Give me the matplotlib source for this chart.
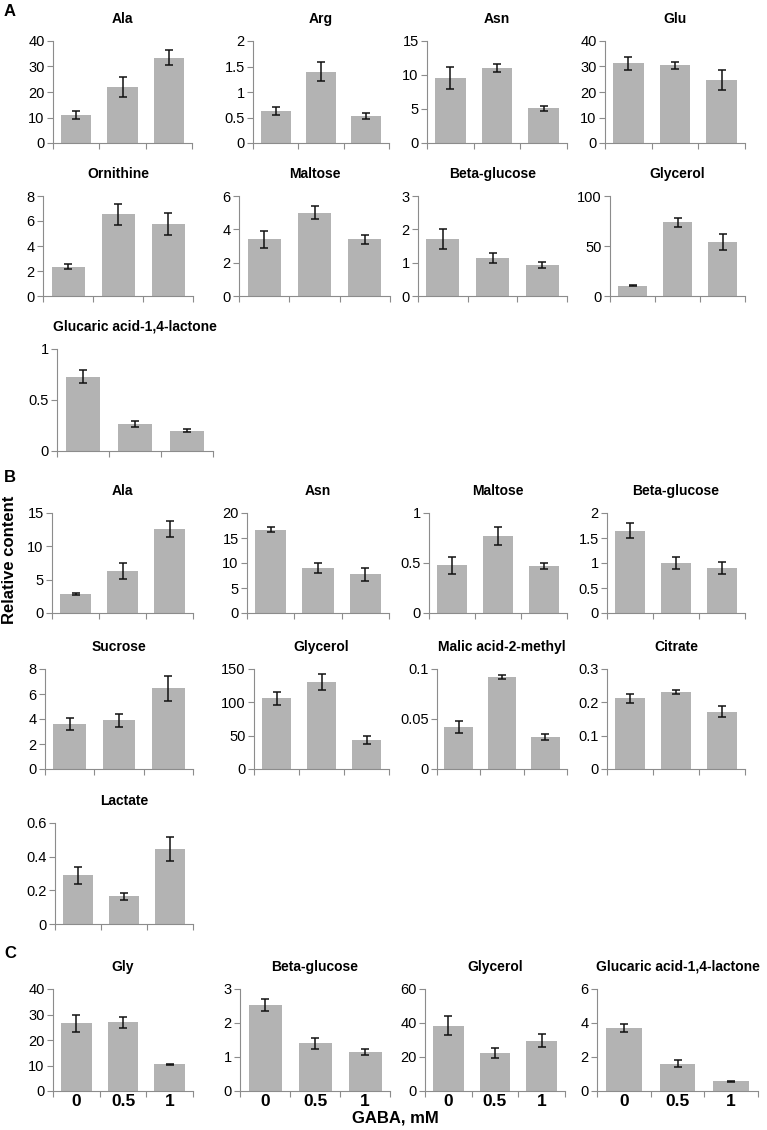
import numpy as np
import matplotlib
matplotlib.use('Agg')
import matplotlib.pyplot as plt
from matplotlib.ticker import FuncFormatter, FixedLocator

plt.rcParams['font.family'] = ['Liberation Sans', 'DejaVu Sans']

gaba = ['0', '0.5', '1']

# panel A
a_names = ['Ala', 'Arg', 'Asn', 'Glu', 'Ornithine', 'Maltose', 'Beta-glucose', 'Glycerol',
           'Glucaric acid-1,4-lactone']
a_means = [[11, 22, 33.5], [0.62, 1.4, 0.53], [9.6, 11.0, 5.1], [31.2, 30.4, 24.8],
           [2.35, 6.55, 5.75], [3.4, 5.0, 3.4], [1.72, 1.15, 0.93], [10.5, 74, 54],
           [0.73, 0.265, 0.2]]
a_errs = [[1.5, 4, 3], [0.08, 0.18, 0.06], [1.6, 0.6, 0.4], [2.6, 1.2, 4],
          [0.2, 0.85, 0.9], [0.5, 0.4, 0.25], [0.3, 0.15, 0.08], [0.8, 4.5, 8],
          [0.065, 0.025, 0.015]]
a_yticks = [[0, 10, 20, 30, 40], [0, 0.5, 1, 1.5, 2], [0, 5, 10, 15], [0, 10, 20, 30, 40],
            [0, 2, 4, 6, 8], [0, 2, 4, 6], [0, 1, 2, 3], [0, 50, 100], [0, 0.5, 1]]

# panel B
b_names = ['Ala', 'Asn', 'Maltose', 'Beta-glucose', 'Sucrose', 'Glycerol',
           'Malic acid-2-methyl', 'Citrate', 'Lactate']
b_means = [[2.8, 6.3, 12.6], [16.7, 9.1, 7.8], [0.48, 0.77, 0.47], [1.65, 1.0, 0.9],
           [3.6, 3.9, 6.45], [106, 130, 43], [0.042, 0.092, 0.032], [0.212, 0.231, 0.172],
           [0.29, 0.165, 0.445]]
b_errs = [[0.15, 1.2, 1.2], [0.5, 1.0, 1.3], [0.085, 0.09, 0.03], [0.15, 0.12, 0.12],
          [0.45, 0.5, 1.0], [10, 12, 6], [0.006, 0.002, 0.003], [0.013, 0.006, 0.016],
          [0.05, 0.02, 0.07]]
b_yticks = [[0, 5, 10, 15], [0, 5, 10, 15, 20], [0, 0.5, 1], [0, 0.5, 1, 1.5, 2],
            [0, 2, 4, 6, 8], [0, 50, 100, 150], [0, 0.05, 0.1], [0, 0.1, 0.2, 0.3],
            [0, 0.2, 0.4, 0.6]]

# panel C
c_names = ['Gly', 'Beta-glucose', 'Glycerol', 'Glucaric acid-1,4-lactone']
c_means = [[26.5, 27, 10.4], [2.52, 1.4, 1.15], [38.5, 22.5, 29.5], [3.72, 1.6, 0.58]]
c_errs = [[3.5, 2.2, 0.2], [0.18, 0.17, 0.1], [5.5, 3, 3.8], [0.25, 0.2, 0.03]]
c_yticks = [[0, 10, 20, 30, 40], [0, 1, 2, 3], [0, 20, 40, 60], [0, 2, 4, 6]]

# axes boxes in pixels: left, right, top, bottom
W, H = 767, 1130
a_boxes = [(53, 192, 41, 143), (253, 389, 41, 143), (427, 567, 41, 143), (605, 745, 41, 143),
           (43, 193, 196, 296), (239, 390, 196, 296), (418, 567, 196, 296), (610, 745, 196, 296),
           (57, 213, 349, 451)]
b_boxes = [(52, 193, 513, 613), (247, 389, 513, 613), (429, 567, 513, 613), (607, 745, 513, 613),
           (45, 193, 669, 769), (254, 389, 669, 769), (437, 567, 669, 769), (607, 745, 669, 769),
           (55, 193, 823, 924)]
c_boxes = [(53, 193, 989, 1091), (240, 390, 989, 1091), (425, 565, 989, 1091), (597, 758, 989, 1091)]

fig = plt.figure(figsize=(W / 100, H / 100), dpi=100)
fmt = FuncFormatter(lambda v, p: '{:g}'.format(round(v, 6)))
spine_col = '#8c8c8c'


def draw(box, name, means, errs, yt, xlabels=False):
    l, r, t, b = box
    ax = fig.add_axes([l / W, 1 - b / H, (r - l) / W, (b - t) / H])
    x = np.arange(len(means))
    ax.bar(x, means, width=0.66, color='#b3b3b3', zorder=2)
    ax.errorbar(x, means, yerr=errs, fmt='none', ecolor='#111111', elinewidth=1.1,
                capsize=3, capthick=1.1, zorder=3)
    ax.set_xlim(-0.5, len(means) - 0.5)
    ax.set_ylim(yt[0], yt[-1])
    ax.set_yticks(yt)
    ax.yaxis.set_major_formatter(fmt)
    ax.xaxis.set_minor_locator(FixedLocator(np.arange(len(means) + 1) - 0.5))
    ax.set_xticks(x)
    if xlabels:
        ax.set_xticklabels(gaba, fontsize=12.5, fontweight='bold')
    else:
        ax.set_xticklabels([])
    ax.tick_params(axis='x', which='major', length=0, pad=2)
    ax.tick_params(axis='x', which='minor', length=4, color=spine_col, width=0.8)
    ax.tick_params(axis='y', length=4, color=spine_col, width=0.8, labelsize=10.5, pad=2)
    for s in ['top', 'right']:
        ax.spines[s].set_visible(False)
    for s in ['left', 'bottom']:
        ax.spines[s].set_color(spine_col)
        ax.spines[s].set_linewidth(0.8)
    ax.set_title(name, fontsize=10, fontweight='bold', pad=13)
    return ax


for i in range(len(a_names)):
    draw(a_boxes[i], a_names[i], a_means[i], a_errs[i], a_yticks[i])
for i in range(len(b_names)):
    draw(b_boxes[i], b_names[i], b_means[i], b_errs[i], b_yticks[i])
for i in range(len(c_names)):
    draw(c_boxes[i], c_names[i], c_means[i], c_errs[i], c_yticks[i], xlabels=True)

fig.text(4 / W, 1 - 12 / H, 'A', fontsize=12, fontweight='bold', va='center', ha='left')
fig.text(4 / W, 1 - 478 / H, 'B', fontsize=12, fontweight='bold', va='center', ha='left')
fig.text(4 / W, 1 - 954 / H, 'C', fontsize=12, fontweight='bold', va='center', ha='left')
fig.text(10 / W, 1 - 560 / H, 'Relative content', fontsize=12, fontweight='bold',
         rotation=90, va='center', ha='center')
fig.text(395 / W, 1 - 1118 / H, 'GABA, mM', fontsize=12, fontweight='bold',
         va='center', ha='center')

fig.savefig('out.png', dpi=100)
